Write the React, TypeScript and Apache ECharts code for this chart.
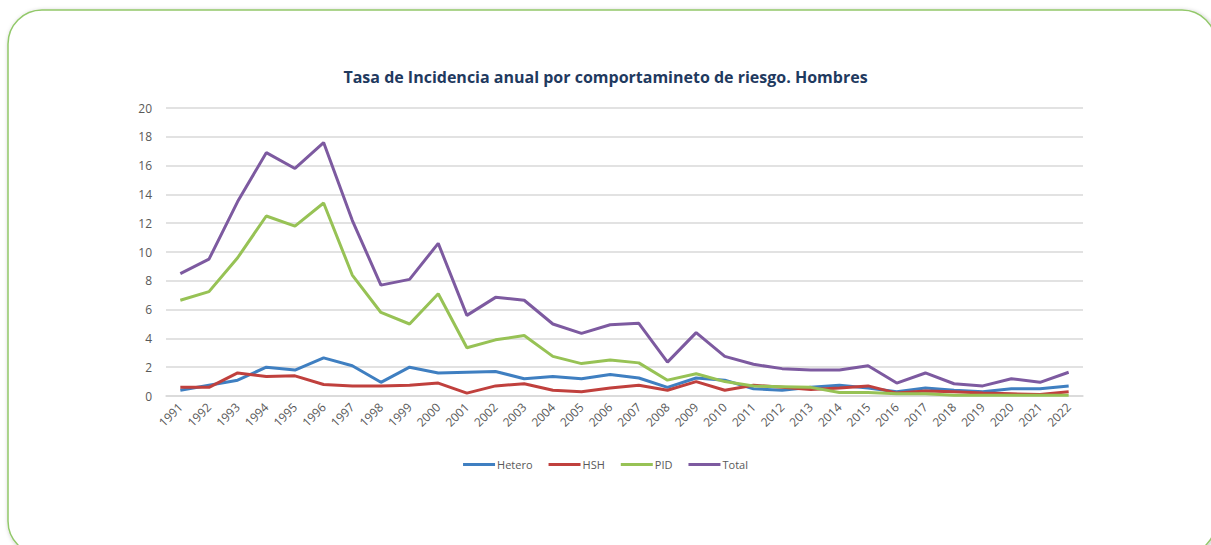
import React, { useEffect, useRef } from "react";
import * as echarts from "echarts";

const years = [
  "1991","1992","1993","1994","1995","1996","1997","1998","1999","2000",
  "2001","2002","2003","2004","2005","2006","2007","2008","2009","2010",
  "2011","2012","2013","2014","2015","2016","2017","2018","2019","2020",
  "2021","2022",
];

const hetero = [0.4, 0.75, 1.1, 2.0, 1.8, 2.65, 2.1, 0.95, 2.0, 1.6, 1.65, 1.7, 1.2, 1.35, 1.2, 1.5, 1.25, 0.6, 1.25, 1.1, 0.5, 0.4, 0.6, 0.75, 0.55, 0.3, 0.55, 0.4, 0.3, 0.5, 0.5, 0.7];
const hsh = [0.6, 0.6, 1.6, 1.35, 1.4, 0.8, 0.7, 0.7, 0.75, 0.9, 0.2, 0.7, 0.85, 0.4, 0.3, 0.55, 0.75, 0.4, 1.0, 0.4, 0.75, 0.6, 0.45, 0.55, 0.7, 0.2, 0.35, 0.3, 0.2, 0.15, 0.1, 0.3];
const pid = [6.65, 7.25, 9.6, 12.5, 11.8, 13.4, 8.4, 5.8, 5.0, 7.1, 3.35, 3.9, 4.2, 2.75, 2.25, 2.5, 2.3, 1.1, 1.55, 1.0, 0.7, 0.65, 0.6, 0.25, 0.25, 0.15, 0.15, 0.05, 0.05, 0.05, 0.05, 0.05];
const total = [8.5, 9.5, 13.5, 16.9, 15.8, 17.6, 12.2, 7.7, 8.1, 10.6, 5.6, 6.85, 6.65, 5.0, 4.35, 4.95, 5.05, 2.35, 4.4, 2.75, 2.2, 1.9, 1.8, 1.8, 2.1, 0.9, 1.6, 0.85, 0.7, 1.2, 0.95, 1.65];

const seriesNames = ["Hetero", "HSH", "PID", "Total"];
const seriesColors = ["#3f7fc1", "#c0403d", "#97c255", "#7d5aa0"];
const titleText = "Tasa de Incidencia anual por comportamineto de riesgo. Hombres";

export default function App() {
  const ref = useRef<HTMLDivElement>(null);
  useEffect(() => {
    if (!ref.current) return;
    const chart = echarts.init(ref.current, null, { renderer: "svg" });
    const data = [hetero, hsh, pid, total];
    chart.setOption({
      animation: false,
      backgroundColor: "#ffffff",
      graphic: [
        {
          type: "rect",
          shape: { x: 8, y: 10, width: 1208, height: 545, r: 34 },
          style: {
            fill: "#ffffff",
            stroke: "#92c86a",
            lineWidth: 1.5,
            shadowBlur: 4,
            shadowColor: "rgba(0,0,0,0.25)",
            shadowOffsetX: 1,
            shadowOffsetY: 1,
          },
          z: -10,
          silent: true,
        },
      ],
      title: {
        text: titleText,
        left: "center",
        top: 64,
        textStyle: {
          fontFamily: "Open Sans",
          fontWeight: "bold",
          fontSize: 16,
          color: "#1f3a5f",
        },
      },
      legend: {
        top: 454,
        left: "center",
        icon: "rect",
        itemWidth: 32,
        itemHeight: 3,
        itemGap: 16,
        textStyle: { fontFamily: "Open Sans", fontSize: 11, color: "#595959", padding: [0, 0, 0, -3] },
        data: seriesNames,
      },
      grid: { left: 166, right: 128, top: 108, bottom: 149, containLabel: false },
      xAxis: {
        type: "category",
        data: years,
        boundaryGap: true,
        axisLine: { show: true, lineStyle: { color: "#d9d9d9", width: 1.5 } },
        axisTick: { show: false },
        axisLabel: {
          rotate: 45,
          interval: 0,
          fontFamily: "Open Sans",
          fontSize: 12,
          color: "#595959",
          margin: 9,
        },
      },
      yAxis: {
        type: "value",
        min: 0,
        max: 20,
        interval: 2,
        axisLine: { show: false },
        axisTick: { show: false },
        splitLine: { lineStyle: { color: "#d9d9d9", width: 1.5 } },
        axisLabel: { fontFamily: "Open Sans", fontSize: 12, color: "#595959", margin: 14 },
      },
      series: seriesNames.map((name, i) => ({
        name,
        type: "line",
        data: data[i],
        symbol: "none",
        lineStyle: { width: 3, color: seriesColors[i] },
        itemStyle: { color: seriesColors[i] },
      })),
    });
    return () => chart.dispose();
  }, []);
  return (
    <div
      ref={ref}
      style={{ position: "fixed", left: 0, top: 0, width: 1211, height: 545 }}
    />
  );
}
